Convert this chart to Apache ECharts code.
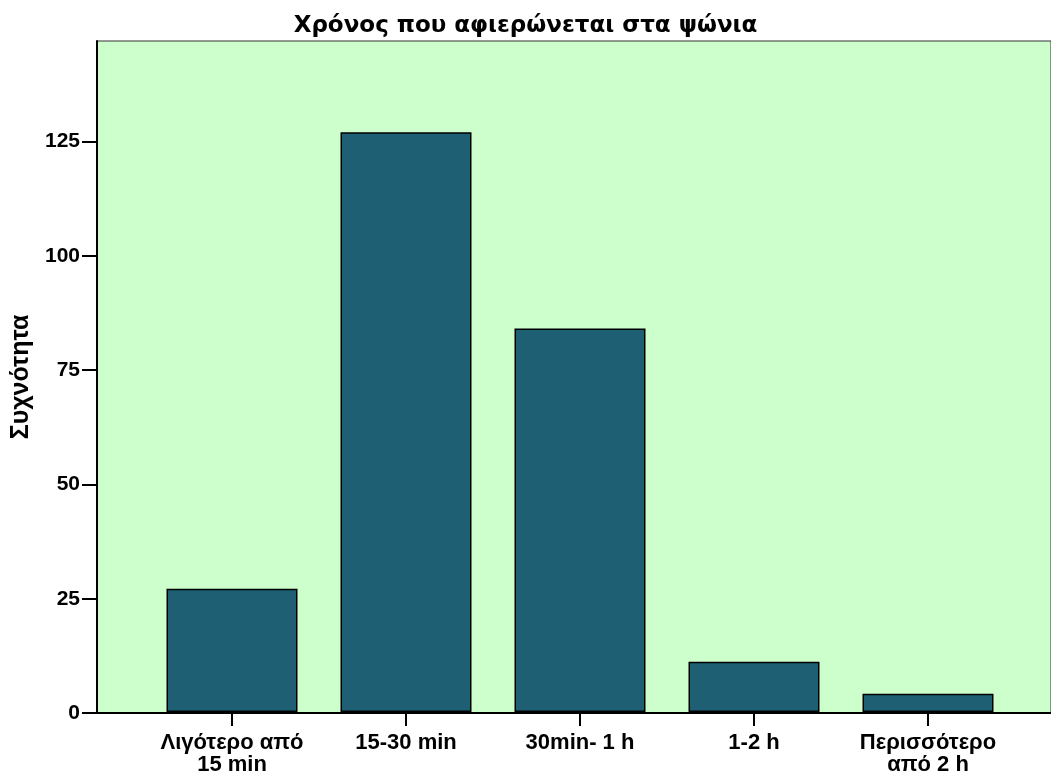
<!DOCTYPE html>
<html>
<head>
<meta charset="utf-8">
<script src="https://cdn.jsdelivr.net/npm/echarts@6/dist/echarts.min.js"></script>
<style>
  html, body { margin: 0; padding: 0; background: #ffffff; }
  #chart { width: 1051px; height: 776px; }
</style>
</head>
<body>
<div id="chart"></div>
<script>
// Shopping time frequencies
const categories = ['Λιγότερο από\n15 min', '15-30 min', '30min- 1 h', '1-2 h', 'Περισσότερο\nαπό 2 h'];
const counts = [27, 127, 84, 11, 4];
const yTicks = [0, 25, 50, 75, 100, 125];
const yMax = 147;

const FONT = '"Liberation Sans", Arial, sans-serif';
const TITLE_FONT = '"DejaVu Sans", sans-serif';

const chart = echarts.init(document.getElementById('chart'), null, { renderer: 'canvas' });

chart.setOption({
  animation: false,
  backgroundColor: '#ffffff',
  title: {
    text: 'Χρόνος που αφιερώνεται στα ψώνια',
    left: 'center',
    top: 10,
    textStyle: { fontFamily: TITLE_FONT, fontSize: 23, fontWeight: 'bold', color: '#000' }
  },
  grid: [
    // frame with the background and the frequency axis
    { left: 97, right: -3, top: 41, bottom: 63, show: true, backgroundColor: '#ccffcc',
      borderColor: '#333333', borderWidth: 1, containLabel: false },
    // inner band for the bars
    { left: 145, width: 870, top: 41, bottom: 63, containLabel: false }
  ],
  xAxis: [
    { gridIndex: 0, type: 'value', min: 0, max: 1,
      axisLine: { show: true, onZero: false, lineStyle: { color: '#000', width: 2 } },
      axisTick: { show: false }, axisLabel: { show: false }, splitLine: { show: false } },
    { gridIndex: 1, type: 'category', data: categories,
      axisLine: { show: false },
      axisTick: { show: true, alignWithLabel: true, length: 14, lineStyle: { color: '#000', width: 2 } },
      axisLabel: { margin: 20, fontFamily: FONT, fontSize: 22, fontWeight: 'bold', color: '#000', lineHeight: 22, interval: 0 },
      splitLine: { show: false } }
  ],
  yAxis: [
    { gridIndex: 0, type: 'value', min: 0, max: yMax, interval: 25,
      name: 'Συχνότητα', nameLocation: 'middle', nameGap: 62, nameRotate: 90,
      nameTextStyle: { fontFamily: FONT, fontSize: 25, fontWeight: 'bold', color: '#000' },
      axisLine: { show: true, lineStyle: { color: '#000', width: 2 } },
      axisTick: { show: true, length: 15, customValues: yTicks, lineStyle: { color: '#000', width: 2 } },
      axisLabel: { margin: 17, customValues: yTicks, fontFamily: FONT, fontSize: 21, fontWeight: 'bold', color: '#000' },
      splitLine: { show: false } },
    { gridIndex: 1, type: 'value', min: 0, max: yMax, show: false }
  ],
  series: [{
    type: 'bar',
    xAxisIndex: 1,
    yAxisIndex: 1,
    data: counts,
    barWidth: 131,
    itemStyle: { color: '#1e5f74', borderColor: '#000', borderWidth: 1.5 }
  }]
});
</script>
</body>
</html>
